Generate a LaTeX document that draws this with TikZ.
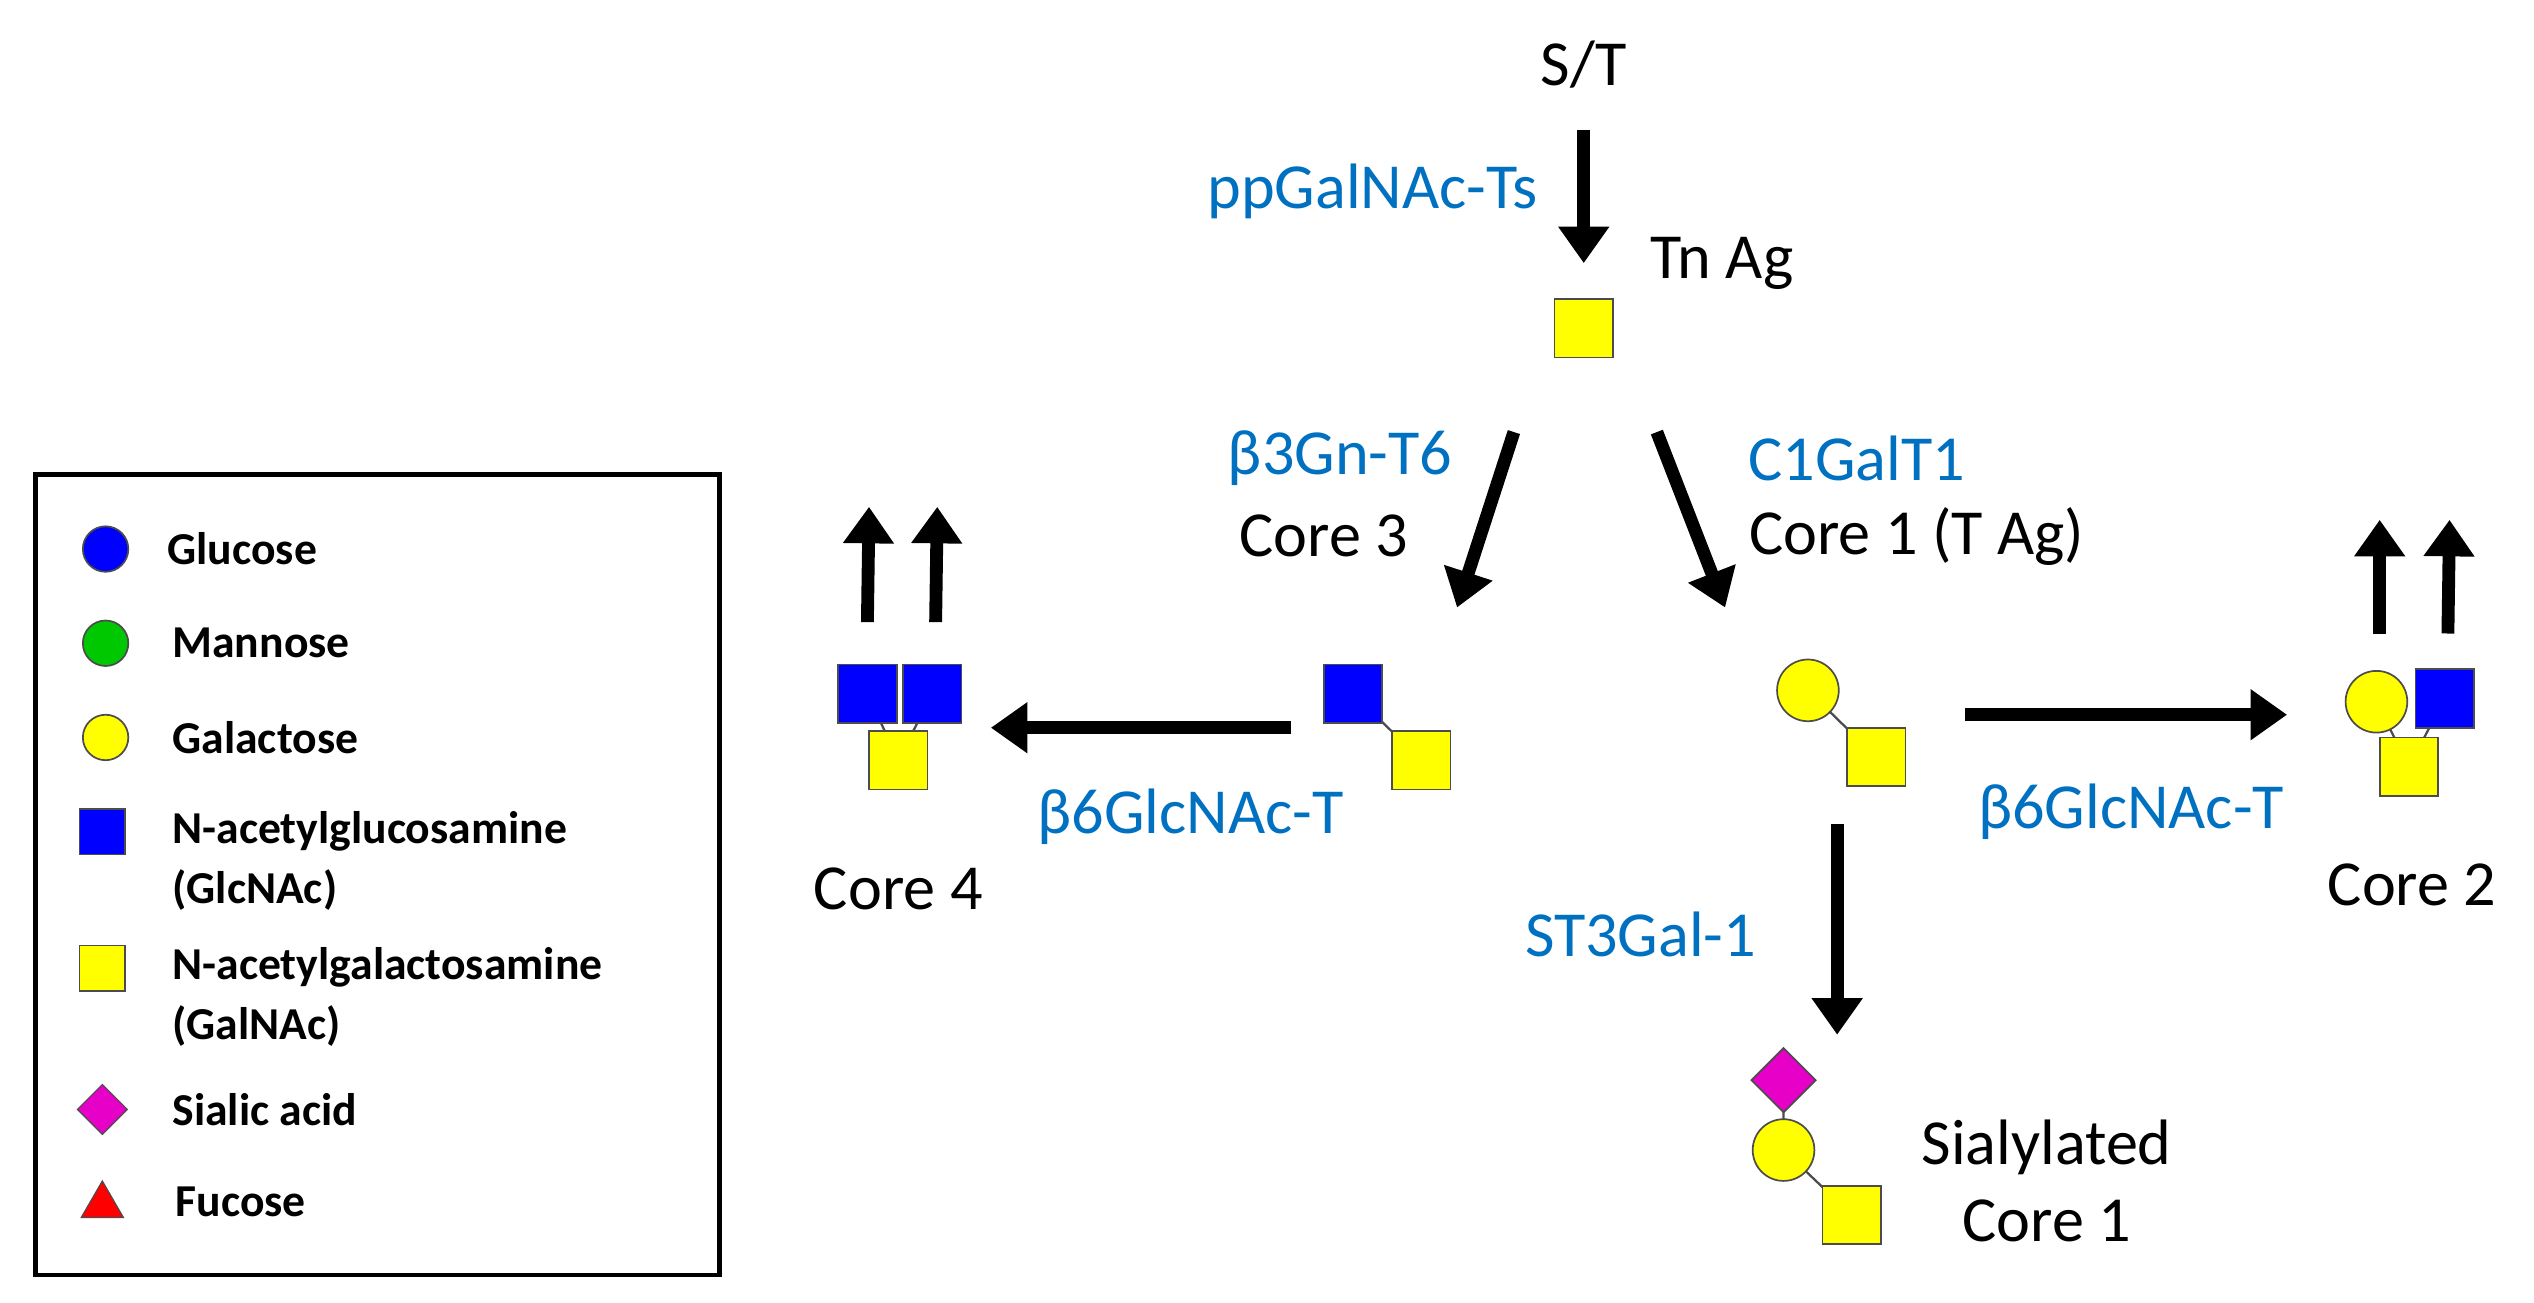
\documentclass[tikz,border=0pt]{standalone}
\usepackage{fontspec}
\setmainfont{Carlito}
\usetikzlibrary{shapes.geometric,arrows.meta}
\definecolor{eblue}{RGB}{0,112,192}
\definecolor{gblue}{RGB}{0,0,255}
\definecolor{gyel}{RGB}{255,255,0}
\definecolor{ggreen}{RGB}{0,200,0}
\definecolor{gmag}{RGB}{230,0,200}
\begin{document}
\begin{tikzpicture}[x=0.02cm,y=-0.02cm,
  sq/.style={draw=black!70,line width=0.6pt,minimum size=0.72cm,inner sep=0pt},
  ci/.style={circle,draw=black!70,line width=0.6pt,minimum size=0.76cm,inner sep=0pt},
  di/.style={diamond,draw=black!70,line width=0.6pt,minimum size=0.8cm,inner sep=0pt},
  lsq/.style={sq,minimum size=0.56cm},
  lci/.style={ci,minimum size=0.56cm},
  bond/.style={draw=black!70,line width=0.8pt},
  arr/.style={line width=4.5pt,-{Triangle[length=0.45cm,width=0.6cm]}},
  lab/.style={font=\fontsize{22.5}{27}\selectfont},
  enz/.style={lab,text=eblue},
  leg/.style={font=\fontsize{16}{19}\bfseries,anchor=west,align=left}]
\useasboundingbox (0,0) rectangle (1560,802);
% top
\node[lab] (st) at (975,40) {S/T};
\coordinate (a1s) at (975,80); \coordinate (a1e) at (975,162);
\draw[arr] (a1s) -- (a1e);
\node[enz] (pp) at (845,118) {ppGalNAc-Ts};
\node[lab] (tn) at (1060,162) {Tn Ag};
\node[sq,fill=gyel] (tnsq) at (975,202) {};
% core 3 branch
\node[enz] (b3) at (825,282) {β3Gn-T6};
\node[lab] (c3) at (815,330) {Core 3};
\coordinate (a2s) at (932,266); \coordinate (a2e) at (897,374);
\draw[arr] (a2s) -- (a2e);
\node[enz] (c1gt) at (1143,282) {C1GalT1};
\node[lab] (c1) at (1180,330) {Core 1 (T Ag)};
\coordinate (a3s) at (1020,266); \coordinate (a3e) at (1062,374);
\draw[arr] (a3s) -- (a3e);
% core 3 glycan
\draw[bond] (833,427) -- (875,468);
\node[sq,fill=gblue] (c3b) at (833,427) {};
\node[sq,fill=gyel] (c3y) at (875,468) {};
% core 4
\coordinate (a4s) at (795,448); \coordinate (a4e) at (610,448);
\draw[arr] (a4s) -- (a4e);
\node[enz] (b6a) at (733,503) {β6GlcNAc-T};
\draw[bond] (534,427) -- (553,468) -- (574,427);
\node[sq,fill=gyel] (c4y) at (553,468) {};
\node[sq,fill=gblue] (c4b1) at (534,427) {};
\node[sq,fill=gblue] (c4b2) at (574,427) {};
\coordinate (a5s) at (534,383); \coordinate (a5e) at (535,312);
\coordinate (a6s) at (576,383); \coordinate (a6e) at (577,312);
\draw[arr] (a5s) -- (a5e);
\draw[arr] (a6s) -- (a6e);
\node[lab] (c4) at (553,547) {Core 4};
% core 1 glycan
\draw[bond] (1113,425) -- (1155,466);
\node[ci,fill=gyel] (c1g) at (1113,425) {};
\node[sq,fill=gyel] (c1y) at (1155,466) {};
% core 2
\coordinate (a7s) at (1210,440); \coordinate (a7e) at (1408,440);
\draw[arr] (a7s) -- (a7e);
\node[enz] (b6b) at (1312,500) {β6GlcNAc-T};
\draw[bond] (1463,432) -- (1483,472) -- (1505,430);
\node[sq,fill=gyel] (c2y) at (1483,472) {};
\node[sq,fill=gblue] (c2b) at (1505,430) {};
\node[ci,fill=gyel] (c2g) at (1463,432) {};
\coordinate (a8s) at (1465,390); \coordinate (a8e) at (1465,320);
\coordinate (a9s) at (1507,390); \coordinate (a9e) at (1508,320);
\draw[arr] (a8s) -- (a8e);
\draw[arr] (a9s) -- (a9e);
\node[lab] (c2) at (1485,545) {Core 2};
% sialylated
\coordinate (a10s) at (1131,507); \coordinate (a10e) at (1131,637);
\draw[arr] (a10s) -- (a10e);
\node[enz] (st3) at (1010,575) {ST3Gal-1};
\draw[bond] (1098,665) -- (1098,708) -- (1140,748);
\node[sq,fill=gyel] (sy) at (1140,748) {};
\node[ci,fill=gyel] (sg) at (1098,708) {};
\node[di,fill=gmag] (sd) at (1098,665) {};
\node[lab,align=center] (sl) at (1260,727) {Sialylated\\[0pt]Core 1};
% legend
\draw[line width=1.6pt] (22,292) rectangle (443,785);
\node[lci,fill=gblue] (l1) at (65,338) {};
\node[leg] at (97,338) {Glucose};
\node[lci,fill=ggreen] (l2) at (65,396) {};
\node[leg] at (100,396) {Mannose};
\node[lci,fill=gyel] (l3) at (65,454) {};
\node[leg] at (100,454) {Galactose};
\node[lsq,fill=gblue] (l4) at (63,512) {};
\node[leg] at (100,530) {N-acetylglucosamine\\[2pt](GlcNAc)};
\node[lsq,fill=gyel] (l5) at (63,596) {};
\node[leg] at (100,614) {N-acetylgalactosamine\\[2pt](GalNAc)};
\node[diamond,draw=black!70,fill=gmag,minimum size=0.62cm,inner sep=0pt] (l6) at (63,683) {};
\node[leg] at (100,683) {Sialic acid};
\node[isosceles triangle,shape border rotate=90,isosceles triangle apex angle=60,draw=black!70,fill=red,minimum height=0.45cm,inner sep=0pt] (l7) at (63,742) {};
\node[leg] at (102,740) {Fucose};
\end{tikzpicture}
\end{document}
